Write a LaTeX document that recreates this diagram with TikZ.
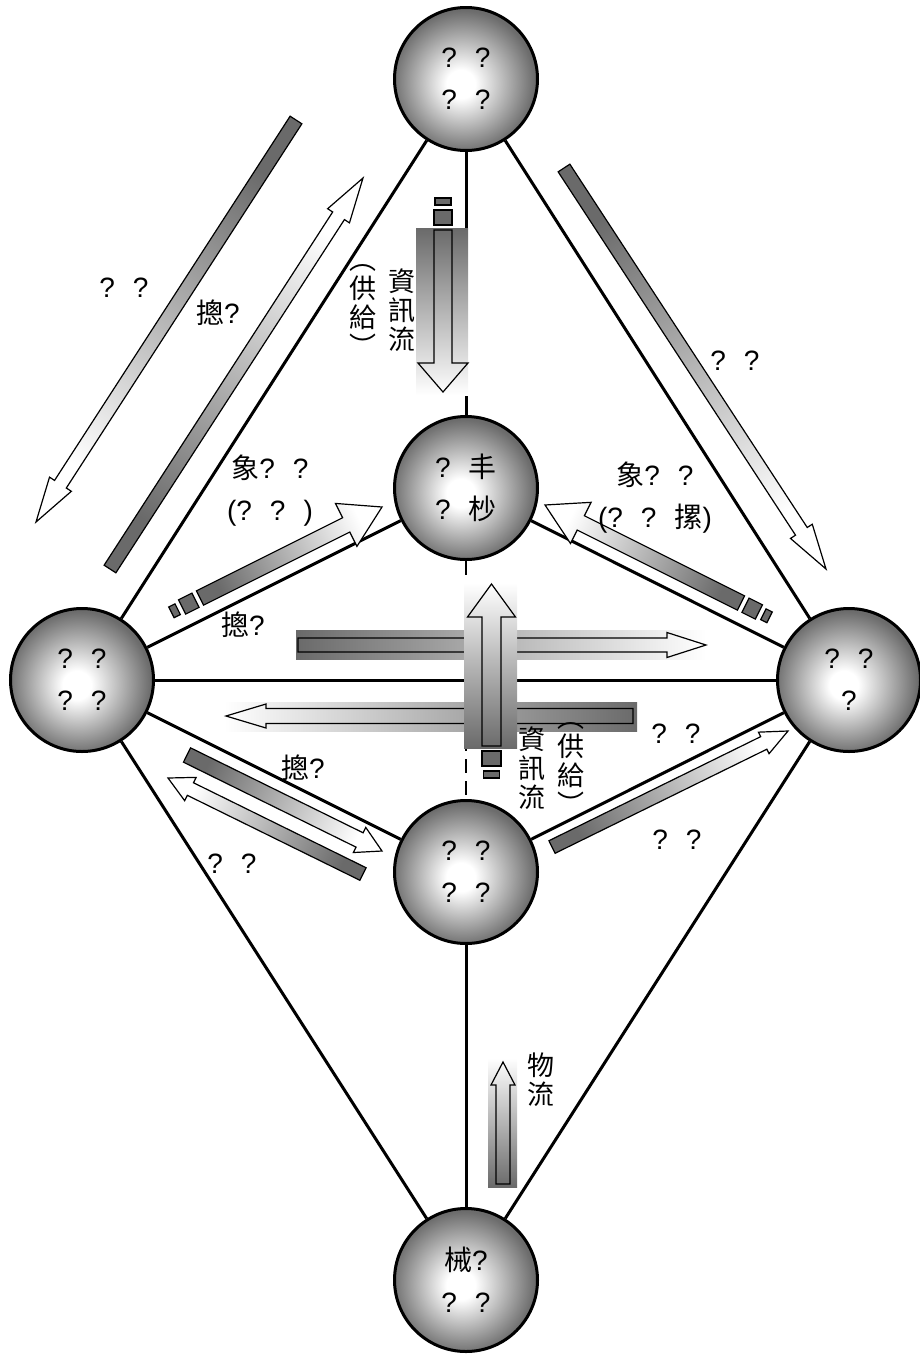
\documentclass[tikz,border=0pt]{standalone}
\usepackage{fontspec}
\setmainfont{Liberation Sans}
\newfontfamily\cjk{Noto Sans CJK TC}
\usetikzlibrary{calc}
\definecolor{FlowDark}{HTML}{6A6A6A}
\definecolor{BallEdge}{HTML}{6C6C6C}
\pgfdeclareradialshading{ballshade}{\pgfpoint{-2bp}{-2bp}}{color(0bp)=(white); color(5bp)=(white); color(25bp)=(BallEdge); color(50bp)=(BallEdge)}
\newcommand{\labelfont}{\fontsize{28}{42}\selectfont\spaceskip=.55em\relax}
% block arrow: [style]{tail}{tip}{shaft half width}{head half width}{head length}
\newcommand{\fatarrow}[6][]{%
  \coordinate (fatail) at #2;
  \coordinate (fatip) at #3;
  \coordinate (fabase) at ($(fatip)!#6!(fatail)$);
  \draw[#1] ($(fatail)!#4!90:(fatip)$) -- ($(fabase)!#4!90:(fatip)$)
    -- ($(fabase)!#5!90:(fatip)$) -- (fatip)
    -- ($(fabase)!#5!-90:(fatip)$) -- ($(fabase)!#4!-90:(fatip)$)
    -- ($(fatail)!#4!-90:(fatip)$) -- cycle;}
% two broken bits behind a tail: {tail}{tip}{half width}{small half width}
\newcommand{\dashtail}[4]{%
  \coordinate (dta) at #1;
  \coordinate (dtb) at #2;
  \coordinate (dt1) at ($(dta)!-5pt!(dtb)$);
  \coordinate (dt2) at ($(dta)!-20pt!(dtb)$);
  \coordinate (dt3) at ($(dta)!-25pt!(dtb)$);
  \coordinate (dt4) at ($(dta)!-32pt!(dtb)$);
  \draw[tailbox] ($(dt1)!#3!90:(dtb)$) -- ($(dt2)!#3!90:(dtb)$) -- ($(dt2)!#3!-90:(dtb)$) -- ($(dt1)!#3!-90:(dtb)$) -- cycle;
  \draw[tailbox] ($(dt3)!#4!90:(dtb)$) -- ($(dt4)!#4!90:(dtb)$) -- ($(dt4)!#4!-90:(dtb)$) -- ($(dt3)!#4!-90:(dtb)$) -- cycle;}

\begin{document}
\begin{tikzpicture}[x=1pt,y=-1pt,
  ball/.style={circle,draw=black,line width=3pt,shade,shading=ballshade,minimum size=143pt,inner sep=0pt,align=center,font=\labelfont},
  edgeline/.style={line width=3pt},
  dashline/.style={line width=1.6pt,dash pattern=on 14pt off 8pt},
  arrowbody/.style={draw=black,line width=1.2pt,top color=white,bottom color=FlowDark},
  arrowline/.style={draw=black,line width=1.2pt},
  tailbox/.style={draw=black,line width=1.2pt,fill=FlowDark},
  note/.style={inner sep=0pt,align=center,font=\labelfont},
  vnote/.style={inner sep=0pt,align=center,font=\cjk\fontsize{27}{29}\selectfont}
]
\useasboundingbox (0,0) rectangle (920,1358);

\node[ball] (top) at (466,79) {? ?\\? ?};
\node[ball] (mid) at (466,488) {? {\cjk 丰}\\? {\cjk 杪}};
\node[ball] (west) at (82,680) {? ?\\? ?};
\node[ball] (east) at (849,680) {? ?\\?};
\node[ball] (low) at (466,872) {? ?\\? ?};
\node[ball] (bot) at (466,1280) {{\cjk 械}?\\? ?};

\draw[edgeline] (top) -- (mid);
\draw[edgeline] (top) -- (west);
\draw[edgeline] (top) -- (east);
\draw[edgeline] (mid) -- (west);
\draw[edgeline] (mid) -- (east);
\draw[edgeline] (west) -- (east);
\draw[dashline] (mid) -- (low);
\draw[edgeline] (west) -- (low);
\draw[edgeline] (east) -- (low);
\draw[edgeline] (west) -- (bot);
\draw[edgeline] (east) -- (bot);
\draw[edgeline] (low) -- (bot);

% upper pair and the right one
\fatarrow[arrowbody,shading angle=147]{(296,120)}{(36,522)}{7pt}{13pt}{45pt}
\fatarrow[arrowbody,shading angle=-33]{(110,569)}{(363,178)}{7pt}{13pt}{45pt}
\fatarrow[arrowbody,shading angle=-147]{(564,168)}{(826,569)}{7pt}{13pt}{45pt}
% into the middle ball
\dashtail{(200,598)}{(382,507)}{8pt}{6pt}
\fatarrow[arrowbody,shading angle=-63]{(200,598)}{(382,507)}{8pt}{24pt}{40pt}
\dashtail{(741,603)}{(545,505)}{8pt}{6pt}
\fatarrow[arrowbody,shading angle=64]{(741,603)}{(545,505)}{8pt}{23pt}{40pt}
% info flow from the top
\shade[top color=FlowDark,bottom color=white] (416,228) rectangle (468,395);
\dashtail{(443,230)}{(443,392)}{9pt}{8pt}
\fatarrow[arrowline]{(443,230)}{(443,392)}{9pt}{25pt}{29pt}
% across
\shade[left color=FlowDark,right color=white] (296,630) rectangle (706,659);
\fatarrow[arrowline]{(298,645)}{(706,645)}{7pt}{12.5pt}{39pt}
\shade[left color=white,right color=FlowDark] (224,702) rectangle (637,731);
\fatarrow[arrowline]{(633,716)}{(226,716)}{7.5pt}{12pt}{40pt}
% info flow from below
\shade[top color=white,bottom color=FlowDark] (464,583) rectangle (517,748);
\dashtail{(491.5,746)}{(491.5,584)}{9.5pt}{8pt}
\fatarrow[arrowline]{(491.5,746)}{(491.5,584)}{9.5pt}{24pt}{33pt}
% lower pair and the right one
\fatarrow[arrowbody,shading angle=-116]{(187,755)}{(382,851)}{8pt}{14pt}{25pt}
\fatarrow[arrowbody,shading angle=64]{(363,874)}{(168,778)}{7pt}{13pt}{25pt}
\fatarrow[arrowbody,shading angle=-64]{(552,847)}{(788,731)}{7pt}{12pt}{27pt}
% goods flow
\shade[top color=white,bottom color=FlowDark] (488,1058) rectangle (517,1187);
\fatarrow[arrowline]{(503,1184)}{(503,1062)}{7pt}{12pt}{23pt}

\node[note] (capA) at (124,288) {? ?};
\node[note] (capB) at (218,313) {{\cjk 摠}?};
\node[note] (capC) at (270,491) {{\cjk 象}? ?\\(? ? )};
\node[note] (capD) at (655,498) {{\cjk 象}? ?\\(? ? {\cjk 摞})};
\node[note] (capE) at (735,361) {? ?};
\node[note] (capF) at (243,625) {{\cjk 摠}?};
\node[note] (capG) at (303,768) {{\cjk 摠}?};
\node[note] (capH) at (232,864) {? ?};
\node[note] (capI) at (676,734) {? ?};
\node[note] (capJ) at (677,840) {? ?};
\node[vnote] (infoA) at (402,310) {資\\訊\\流};
\node[vnote] (suppA) at (363,310) {︵\\供\\給\\︶};
\node[vnote] (infoB) at (532,768) {資\\訊\\流};
\node[vnote] (suppB) at (571,768) {︵\\供\\給\\︶};
\node[vnote] (goods) at (541,1080) {物\\流};
\end{tikzpicture}
\end{document}
